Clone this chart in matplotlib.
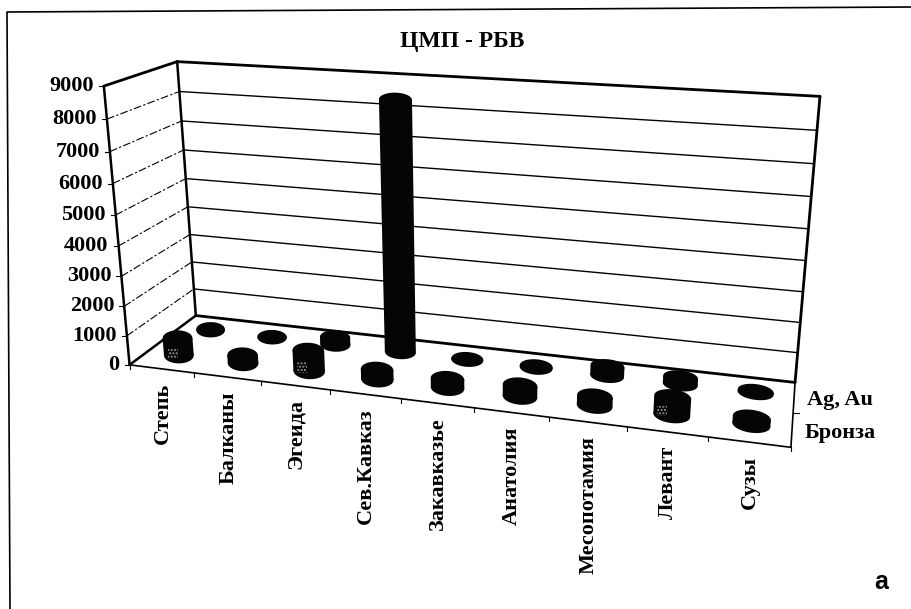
import numpy as np
import matplotlib
matplotlib.use('Agg')
import matplotlib.pyplot as plt

plt.rcParams['font.family'] = ['Liberation Serif', 'DejaVu Serif']

categories = ['Степь', 'Балканы', 'Эгеида', 'Сев.Кавказ', 'Закавказье',
              'Анатолия', 'Месопотамия', 'Левант', 'Сузы']
series_names = ['Бронза', 'Ag, Au']
bronze = [600, 270, 700, 330, 300, 370, 300, 570, 220]
silver_gold = [50, 20, 270, 8400, 30, 50, 330, 230, 60]
value_ticks = [0, 1000, 2000, 3000, 4000, 5000, 6000, 7000, 8000, 9000]
title = 'ЦМП - РБВ'

# calibration of the 3d box: (category, series depth, value) -> picture pixel
box_3d = np.array([(0, 0, 0), (9, 0, 0), (0, 1, 0), (9, 1, 0),
                   (0, 0, 9000), (0, 1, 9000), (9, 1, 9000),
                   (4, 0, 0), (6, 0, 0)], float)
box_px = np.array([(129, 365), (791, 447), (196, 315), (795, 383),
                   (104, 86), (177, 62), (820, 96),
                   (402, 399), (548, 417)], float)


def fit_camera(world, pixels):
    rows = []
    scale = np.array([9, 1, 9000.0])
    for w, p in zip(world / scale, pixels):
        h = [w[0], w[1], w[2], 1]
        rows.append(h + [0, 0, 0, 0] + [-p[0] * v for v in h])
        rows.append([0, 0, 0, 0] + h + [-p[1] * v for v in h])
    m = np.linalg.svd(np.array(rows))[2][-1].reshape(3, 4)
    return m @ np.diag([1 / 9, 1, 1 / 9000.0, 1])


camera = fit_camera(box_3d, box_px)


def project(x, y, z):
    x, y, z = np.broadcast_arrays(x, y, z)
    h = camera @ np.vstack([x.ravel(), y.ravel(), z.ravel(), np.ones(x.size)])
    return h[0] / h[2], h[1] / h[2]


def line3d(ax, a, b, **kw):
    xs, ys = project([a[0], b[0]], [a[1], b[1]], [a[2], b[2]])
    ax.plot(xs, ys, color='black', solid_capstyle='round', **kw)


def ellipse(cat, depth, value, half_h):
    # end of a cylinder, flat on the left of the chart, tilted on the right
    t = np.linspace(0, 2 * np.pi, 60)
    ex, ey = project([cat + 0.265, cat + 0.735], depth, value)
    cx, cy = (ex[0] + ex[1]) / 2, (ey[0] + ey[1]) / 2
    half_w = (ex[1] - ex[0]) / 2
    tilt = (ey[1] - ey[0]) / (ex[1] - ex[0]) * cat / 8
    xs = cx + half_w * np.cos(t)
    ys = cy + half_h * np.sin(t) + tilt * half_w * np.cos(t)
    return xs, ys


def cylinder(ax, cat, depth, value, half_h, speckle=False):
    bx, by = ellipse(cat, depth, 0, half_h)
    tx, ty = ellipse(cat, depth, value, half_h)
    ax.fill(bx, by, color='#050505', lw=0, zorder=4)
    ax.fill(tx, ty, color='#050505', lw=0, zorder=4)
    il, ir = np.argmin(bx), np.argmax(bx)
    jl, jr = np.argmin(tx), np.argmax(tx)
    ax.fill([bx[il], tx[jl], tx[jr], bx[ir]], [by[il], ty[jl], ty[jr], by[ir]],
            color='#050505', lw=0, zorder=4)
    if speckle:
        sx = bx[il] + 4
        ax.fill_between([sx, sx + 10], [ty[jl] + 10] * 2, [by[il] + 2] * 2,
                        facecolor='none', edgecolor='#9a9a9a', hatch='.....',
                        lw=0, zorder=5)


fig = plt.figure(figsize=(9.12, 6.09), dpi=100)
ax = fig.add_axes([0, 0, 1, 1])
ax.set_xlim(0, 912)
ax.set_ylim(609, 0)
ax.axis('off')

# what is left of the page frame: top and left only
ax.plot([912, 7, 10], [7, 12, 609], color='black', lw=1.2)

# walls and floor
for v in value_ticks[1:-1]:
    line3d(ax, (0, 0, v), (0, 1, v), lw=0.8, ls=(0, (7, 2, 2, 2)))
for v in value_ticks[1:-1]:
    line3d(ax, (0, 1, v), (9, 1, v), lw=1.0)
line3d(ax, (0, 1, 9000), (9, 1, 9000), lw=2.0)
line3d(ax, (0, 1, 0), (9, 1, 0), lw=2.0)
line3d(ax, (0, 0, 0), (0, 0, 9000), lw=1.8)
line3d(ax, (0, 1, 0), (0, 1, 9000), lw=1.8)
line3d(ax, (0, 0, 9000), (0, 1, 9000), lw=2.0)
line3d(ax, (0, 0, 0), (0, 1, 0), lw=1.8)
line3d(ax, (9, 1, 0), (9, 1, 9000), lw=2.0)
line3d(ax, (0, 0, 0), (9, 0, 0), lw=1.2)
line3d(ax, (9, 0, 0), (9, 1, 0), lw=1.2)

# cylinders, back row first
for i, v in enumerate(silver_gold):
    cylinder(ax, i, 0.75, v, 7)
for i, v in enumerate(bronze):
    cylinder(ax, i, 0.25, v, 8, speckle=v > 500)

# ticks and labels
for v in value_ticks:
    x, y = project(0, 0, v)
    ax.plot([x[0] - 5, x[0]], [y[0], y[0]], color='black', lw=0.8)
    ax.text(x[0] - 10, y[0], str(v), ha='right', va='center',
            fontsize=16, fontweight='bold')
for i in range(len(categories) + 1):
    x, y = project(i, 0, 0)
    ax.plot([x[0], x[0]], [y[0], y[0] + 4], color='black', lw=0.8)
for i, name in enumerate(categories):
    x, y = project(i + 0.5, 0, 0)
    ax.text(x[0] + 1, y[0] + 14, name, rotation=90, ha='center', va='top',
            fontsize=16, fontweight='bold')
for d, name in zip([0.25, 0.75], series_names):
    x, y = project(9, d, 0)
    ax.text(x[0] + 13, y[0] + 3, name, ha='left', va='center',
            fontsize=16, fontweight='bold')
x, y = project(9, 0.5, 0)
ax.plot([x[0], x[0] + 6], [y[0], y[0]], color='black', lw=0.8)

ax.text(462, 41, title, ha='center', va='center', fontsize=17, fontweight='bold')
ax.text(881, 582, 'а', ha='center', va='center', fontsize=18, fontweight='bold',
        family=['Liberation Sans', 'DejaVu Sans'])

fig.savefig('out.png', dpi=100)
